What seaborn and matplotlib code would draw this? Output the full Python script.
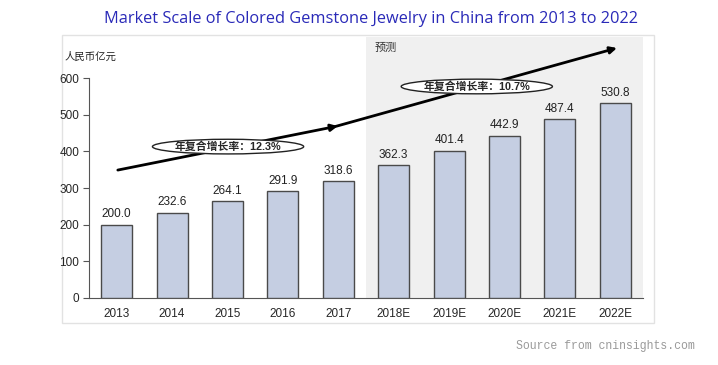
import matplotlib
matplotlib.use("Agg")
import matplotlib.pyplot as plt
from matplotlib.patches import Ellipse, Rectangle
import seaborn as sns
import pandas as pd

years = ["2013", "2014", "2015", "2016", "2017", "2018E", "2019E", "2020E", "2021E", "2022E"]
values = [200.0, 232.6, 264.1, 291.9, 318.6, 362.3, 401.4, 442.9, 487.4, 530.8]
cagr_labels = ["年复合增长率：12.3%", "年复合增长率：10.7%"]
title = "Market Scale of Colored Gemstone Jewelry in China from 2013 to 2022"
unit_label = "人民币亿元"
forecast_label = "预测"
source = "Source from cninsights.com"

sns.set_style("white")
plt.rcParams['font.family'] = ['Liberation Sans', 'Noto Sans CJK SC', 'DejaVu Sans']

fig = plt.figure(figsize=(7.18, 3.65), dpi=100)
W, H = 718, 365

# outer framed image box
fig.patches.append(Rectangle((62 / W, 1 - 323 / H), (654 - 62) / W, (323 - 35) / H,
                             transform=fig.transFigure, facecolor="white",
                             edgecolor="#e2e2e2", linewidth=1.0, zorder=-10))

ax = fig.add_axes([89 / W, 1 - 298 / H, 554 / W, (298 - 37) / H])
ax.set_facecolor("none")
ax.set_zorder(2)

df = pd.DataFrame({"year": years, "value": values})
sns.barplot(data=df, x="year", y="value", color="#c5cee2", edgecolor="#4a4a4a",
            linewidth=1.0, width=0.56, saturation=1, ax=ax, zorder=3)

ax.set_xlim(-0.5, len(years) - 0.5)
ax.set_ylim(0, 712)
ax.set_yticks([0, 100, 200, 300, 400, 500, 600])
ax.spines["left"].set_bounds(0, 600)
for s in ["top", "right"]:
    ax.spines[s].set_visible(False)
ax.spines["left"].set_color("#555555")
ax.spines["bottom"].set_color("#555555")
ax.tick_params(axis="y", length=4, color="#555555", labelsize=8.5, pad=3, left=True)
ax.tick_params(axis="x", length=0, labelsize=8.5, pad=7)
ax.set_xlabel("")
ax.set_ylabel("")

# forecast shading
ax.axvspan(4.5, 9.5, ymin=0, ymax=1, color="#f0f0f0", zorder=0, lw=0)
ax.text(4.65, 683, forecast_label, fontsize=8, style="italic", color="#333333",
        family=["Noto Sans CJK SC"], va="center", ha="left")

# value labels
for i, v in enumerate(values):
    ax.text(i, v + 12, f"{v:.1f}", ha="center", va="bottom", fontsize=8.5, color="#222222", zorder=4)

# growth arrows
ax.annotate("", xy=(3.99, 469), xytext=(0.02, 349),
            arrowprops=dict(arrowstyle="-|>", color="black", lw=2, mutation_scale=10,
                            shrinkA=0, shrinkB=0),
            annotation_clip=False, zorder=5)
ax.annotate("", xy=(9.03, 682), xytext=(3.95, 468),
            arrowprops=dict(arrowstyle="-|>", color="black", lw=2, mutation_scale=10,
                            shrinkA=0, shrinkB=0),
            annotation_clip=False, zorder=5)

for (cx, cy), lab in zip([(2.01, 413), (6.5, 577)], cagr_labels):
    ax.add_patch(Ellipse((cx, cy), 2.73, 40, facecolor="white", edgecolor="#222222",
                         lw=1.0, zorder=6, clip_on=False))
    ax.text(cx, cy, lab, ha="center", va="center", fontsize=7.8, fontweight="bold",
            family=["Liberation Sans", "Noto Sans CJK SC"], zorder=7)

fig.text(65 / W, 1 - 57 / H, unit_label, fontsize=7.5, family=["Noto Sans CJK SC"],
         style="italic", color="#222222", va="center", ha="left")

fig.text(371 / W, 1 - 19 / H, title, ha="center", va="center", fontsize=11.8,
         color="#2a2ab8", family=["Open Sans"])
fig.text(695 / W, 1 - 346 / H, source, ha="right", va="center", fontsize=8.3,
         color="#9a9a9a", family=["Liberation Mono"])

fig.savefig("out.png", dpi=100)
